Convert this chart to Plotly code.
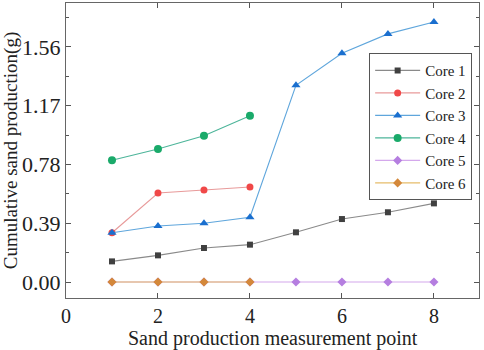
import plotly.graph_objects as go

x_all = [1, 2, 3, 4, 5, 6, 7, 8]
x_first4 = [1, 2, 3, 4]
core1 = [0.137, 0.177, 0.226, 0.248, 0.330, 0.418, 0.463, 0.522]
core2 = [0.327, 0.591, 0.611, 0.631]
core3 = [0.327, 0.372, 0.390, 0.430, 1.306, 1.518, 1.647, 1.726]
core4 = [0.808, 0.883, 0.971, 1.104]
core5 = [0, 0, 0, 0, 0, 0, 0, 0]
core6 = [0, 0, 0, 0]

y_ticks = [0.00, 0.39, 0.78, 1.17, 1.56]
y_tick_labels = ["0.00", "0.39", "0.78", "1.17", "1.56"]
x_ticks = [0, 2, 4, 6, 8]
x_title = "Sand production measurement point"
y_title = "Cumulative sand production(g)"

series = [
    ("Core 1", x_all, core1, "#8a8a8a", "#404040", "square", 6),
    ("Core 2", x_first4, core2, "#e89a9a", "#f04848", "circle", 7),
    ("Core 3", x_all, core3, "#5fa6dc", "#1a6fcf", "triangle-up", 8),
    ("Core 4", x_first4, core4, "#4db59a", "#1aaa6a", "circle", 8),
    ("Core 5", x_all, core5, "#d4a8ec", "#b57ee0", "diamond", 7),
    ("Core 6", x_first4, core6, "#e6bc6a", "#d4883a", "diamond", 7),
]

fig = go.Figure()
for name, xs, ys, lc, mc, sym, sz in series:
    fig.add_trace(go.Scatter(
        x=xs, y=ys, name=name, mode="lines+markers",
        line=dict(color=lc, width=1.1),
        marker=dict(color=mc, symbol=sym, size=sz),
    ))

font_family = "Liberation Serif, Times New Roman, serif"
fig.update_layout(
    width=484, height=350,
    margin=dict(l=66, r=5, t=3, b=52),
    paper_bgcolor="white", plot_bgcolor="white",
    font=dict(family=font_family, color="#222"),
    showlegend=True,
    legend=dict(
        x=0.734, y=0.83, xanchor="left", yanchor="top",
        bordercolor="#555", borderwidth=1, bgcolor="white",
        font=dict(size=15, family=font_family, color="#222"),
        itemwidth=45, tracegroupgap=0,
    ),
    xaxis=dict(
        range=[0, 8.98], tickvals=x_ticks, ticks="inside", ticklen=5,
        tickcolor="#555", showgrid=False, zeroline=False,
        showline=True, linecolor="#666", linewidth=1, mirror="ticks",
        tickfont=dict(size=20, family=font_family, color="#222"),
    ),
    yaxis=dict(
        range=[-0.106, 1.852], tickvals=y_ticks, ticktext=y_tick_labels,
        ticks="inside", ticklen=5, tickcolor="#555",
        showgrid=False, zeroline=False,
        showline=True, linecolor="#666", linewidth=1, mirror="ticks",
        minor=dict(dtick=0.195, tick0=0, ticks="inside", ticklen=3, tickcolor="#555"),
        tickfont=dict(size=22, family=font_family, color="#222"),
        title=dict(text=y_title,
                   font=dict(size=19, family=font_family, color="#222"),
                   standoff=2),
    ),
    annotations=[dict(
        text=x_title, xref="paper", yref="paper", x=0.5, y=-0.137,
        xanchor="center", yanchor="middle", showarrow=False,
        font=dict(size=20, family=font_family, color="#222"),
    )],
)

fig.write_html(
    "out.html",
    config={"displayModeBar": False},
    post_script="document.body.style.margin='0';document.body.style.padding='0';",
)
